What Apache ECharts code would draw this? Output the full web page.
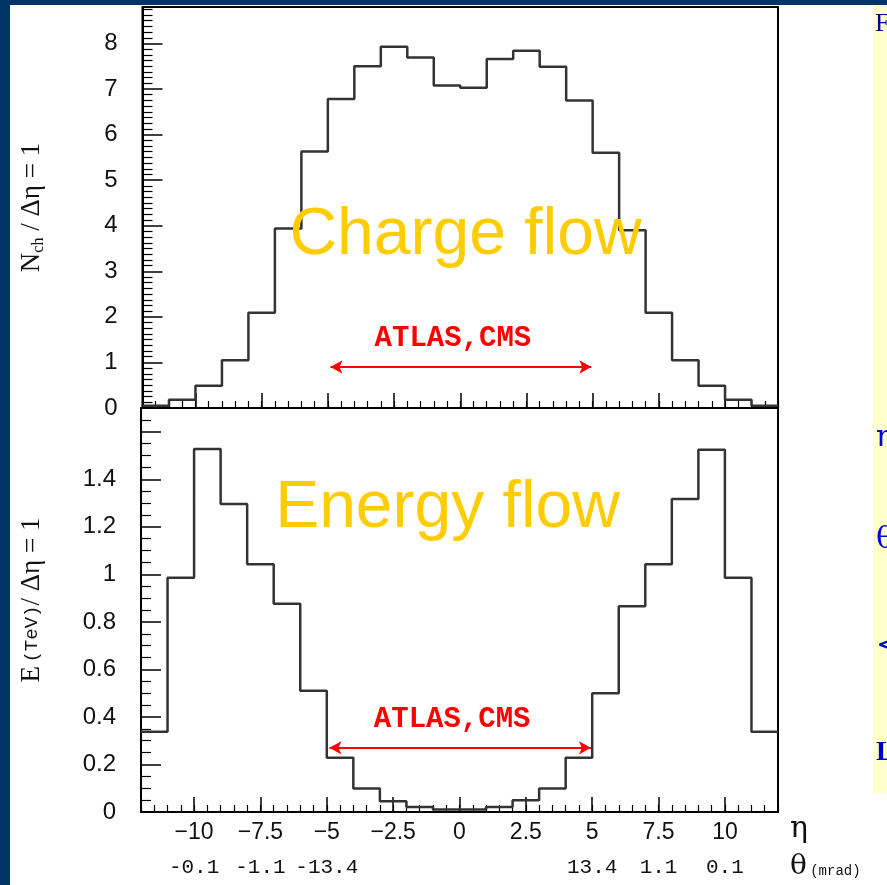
<!DOCTYPE html>
<html>
<head>
<meta charset="utf-8">
<script src="https://cdn.jsdelivr.net/npm/echarts@6/dist/echarts.min.js"></script>
<style>
  html, body { margin: 0; padding: 0; width: 887px; height: 885px; background: #003366; overflow: hidden; }
  #main { position: absolute; left: 10px; top: 5px; width: 877px; height: 880px; background: #fff; }
</style>
</head>
<body>
<div id="main"></div>
<script>
// lower edges of the eta bins (width 1)
const etaBins = [-12, -11, -10, -9, -8, -7, -6, -5, -4, -3, -2, -1, 0, 1, 2, 3, 4, 5, 6, 7, 8, 9, 10, 11]
const etaMax = 12

// charged multiplicity per unit eta
const chargeFlow = [0.05, 0.18, 0.49, 1.05, 2.09, 3.94, 5.63, 6.78, 7.50, 7.93, 7.69, 7.08,
                    7.03, 7.66, 7.84, 7.49, 6.75, 5.60, 3.90, 2.09, 1.05, 0.49, 0.18, 0.05]

// energy (TeV) per unit eta
const energyFlow = [0.338, 0.986, 1.528, 1.296, 1.042, 0.876, 0.51, 0.228, 0.099, 0.045, 0.021, 0.011,
                    0.011, 0.021, 0.049, 0.099, 0.228, 0.50, 0.866, 1.042, 1.317, 1.524, 0.986, 0.338]

const etaTicks = [-10, -7.5, -5, -2.5, 0, 2.5, 5, 7.5, 10]
const thetaTicks = [-10, -7.5, -5, 5, 7.5, 10]
const thetaLabels = ['-0.1', '-1.1', '-13.4', '13.4', '1.1', '0.1']
const chargeTicks = [0, 1, 2, 3, 4, 5, 6, 7, 8]
const energyTicks = [0, 0.2, 0.4, 0.6, 0.8, 1, 1.2, 1.4]

// ATLAS / CMS acceptance in eta
const acceptance = [-4.9, 4.95]

const toSteps = vals => etaBins.map((x, i) => [x, vals[i]]).concat([[etaMax, vals[vals.length - 1]]])

const chart = echarts.init(document.getElementById('main'))

const black = '#000'
const labelFont = 'Liberation Sans'

const mainX = (grid, withLabels) => ({
  type: 'value', gridIndex: grid, position: 'bottom', min: -12, max: 12,
  axisLine: { show: true, onZero: false, lineStyle: { color: black, width: 2 } },
  axisTick: { show: true, inside: true, length: 15, customValues: etaTicks, lineStyle: { color: black, width: 1.5 } },
  axisLabel: withLabels ? {
    show: true, customValues: etaTicks, margin: 9, fontSize: 23, fontFamily: labelFont, color: '#111',
    formatter: v => String(v).replace('-', '\u2212')
  } : { show: false },
  splitLine: { show: false }
})

const minorX = grid => ({
  type: 'value', gridIndex: grid, position: 'bottom', min: -12, max: 12, interval: 0.5,
  axisLine: { show: false, onZero: false },
  axisTick: { show: true, inside: true, length: 7, lineStyle: { color: black, width: 1.2 } },
  axisLabel: { show: false },
  splitLine: { show: false }
})

const arrowLine = (y) => ({
  silent: true,
  symbol: ['arrow', 'arrow'],
  symbolSize: [10, 12],
  lineStyle: { color: '#ff0000', width: 2, type: 'solid' },
  label: {
    show: true, position: 'insideMiddleTop', distance: 14, formatter: 'ATLAS,CMS',
    color: '#ff0000', fontFamily: 'Liberation Mono', fontWeight: 'bold', fontSize: 29,
    padding: [0, 16, 0, 0]
  },
  data: [[{ coord: [acceptance[0], y] }, { coord: [acceptance[1], y] }]]
})

const bigText = (txt, x, y) => ({
  silent: true,
  symbol: 'circle', symbolSize: 0,
  label: {
    show: true, position: 'inside', formatter: txt,
    color: '#FFCC00', fontFamily: 'Liberation Sans', fontSize: 66
  },
  data: [{ coord: [x, y] }]
})

const option = {
  animation: false,
  grid: [
    { left: 129, top: 2, width: 639, height: 401, show: true, borderColor: black, borderWidth: 2 },
    { left: 129, top: 403, width: 639, height: 404, show: true, borderColor: black, borderWidth: 2 }
  ],
  xAxis: [
    mainX(0, false),
    minorX(0),
    Object.assign(mainX(1, true), {
      name: '\u03b7', nameLocation: 'end', nameGap: 12,
      nameTextStyle: { fontFamily: 'DejaVu Serif', fontSize: 30, color: '#111', verticalAlign: 'top', padding: [2, 0, 0, 0] }
    }),
    minorX(1),
    {
      type: 'value', gridIndex: 1, position: 'bottom', min: -12, max: 12, offset: 55,
      axisLine: { show: false, onZero: false }, axisTick: { show: false }, splitLine: { show: false },
      axisLabel: {
        show: true, customValues: thetaTicks, margin: 0, verticalAlign: 'middle',
        fontSize: 21, fontFamily: 'Liberation Mono', color: '#111',
        formatter: v => thetaLabels[thetaTicks.indexOf(v)]
      },
      name: '{t|\u03b8} {m|(mrad)}', nameLocation: 'end', nameGap: 12,
      nameTextStyle: {
        rich: {
          t: { fontFamily: 'DejaVu Serif', fontSize: 28, color: '#111' },
          m: { fontFamily: 'Liberation Mono', fontSize: 14, color: '#111', padding: [8, 0, 0, 0] }
        }
      }
    }
  ],
  yAxis: [
    {
      type: 'value', gridIndex: 0, position: 'left', min: 0, max: 8.8, interval: 1,
      axisLine: { show: true, onZero: false, lineStyle: { color: black, width: 2 } },
      axisTick: { show: true, inside: true, length: 20, lineStyle: { color: black, width: 1.5 } },
      minorTick: { show: true, splitNumber: 8, length: 10, lineStyle: { color: black, width: 1.2 } },
      axisLabel: { customValues: chargeTicks, margin: 25, fontSize: 24, fontFamily: labelFont, color: '#111' },
      splitLine: { show: false },
      name: '{a|N}{s|ch}{a| / \u0394\u03b7 = 1}', nameLocation: 'middle', nameRotate: 90, nameGap: 96,
      nameTextStyle: {
        rich: {
          a: { fontFamily: 'Liberation Serif', fontSize: 27, color: '#111', lineHeight: 30 },
          s: { fontFamily: 'Liberation Serif', fontSize: 16, color: '#111', lineHeight: 30, verticalAlign: 'bottom' }
        }
      }
    },
    {
      type: 'value', gridIndex: 1, position: 'left', min: 0, max: 1.7, interval: 0.2,
      axisLine: { show: true, onZero: false, lineStyle: { color: black, width: 2 } },
      axisTick: { show: true, inside: true, length: 20, lineStyle: { color: black, width: 1.5 } },
      minorTick: { show: true, splitNumber: 4, length: 10, lineStyle: { color: black, width: 1.2 } },
      axisLabel: { customValues: energyTicks, margin: 25, fontSize: 24, fontFamily: labelFont, color: '#111' },
      splitLine: { show: false },
      name: '{a|E} {m|(TeV)}{a|/ \u0394\u03b7 = 1}', nameLocation: 'middle', nameRotate: 90, nameGap: 96,
      nameTextStyle: {
        padding: [0, 0, 0, 20],
        rich: {
          a: { fontFamily: 'Liberation Serif', fontSize: 27, color: '#111' },
          m: { fontFamily: 'Liberation Mono', fontSize: 19, color: '#111' }
        }
      }
    }
  ],
  series: [
    {
      name: 'Charge flow', type: 'line', step: 'end', xAxisIndex: 0, yAxisIndex: 0,
      data: toSteps(chargeFlow), symbol: 'none',
      lineStyle: { color: '#333', width: 2.5 },
      markLine: arrowLine(0.9),
      markPoint: bigText('Charge flow', 0.2, 3.77)
    },
    {
      name: 'Energy flow', type: 'line', step: 'end', xAxisIndex: 2, yAxisIndex: 1,
      data: toSteps(energyFlow), symbol: 'none',
      lineStyle: { color: '#333', width: 2.5 },
      markLine: arrowLine(0.27),
      markPoint: bigText('Energy flow', -0.45, 1.275)
    }
  ],
  graphic: [
    { type: 'rect', left: 863, top: 0, shape: { width: 14, height: 788 }, style: { fill: '#FFFFCC' }, silent: true },
    { type: 'text', left: 865, top: 6, style: { text: 'F', fill: '#000099', font: '26px "Liberation Serif"' } },
    { type: 'text', left: 866, top: 418, style: { text: '\u03b7', fill: '#0000ee', font: '30px "DejaVu Serif"' } },
    { type: 'text', left: 866, top: 520, style: { text: '\u03b8', fill: '#0000ee', font: '30px "DejaVu Serif"' } },
    { type: 'text', left: 866, top: 626, style: { text: '<', fill: '#0000ee', font: '30px "DejaVu Serif"' } },
    { type: 'text', left: 866, top: 734, style: { text: 'L', fill: '#0000cc', font: 'bold 28px "Liberation Serif"' } }
  ]
}

chart.setOption(option)
</script>
</body>
</html>
